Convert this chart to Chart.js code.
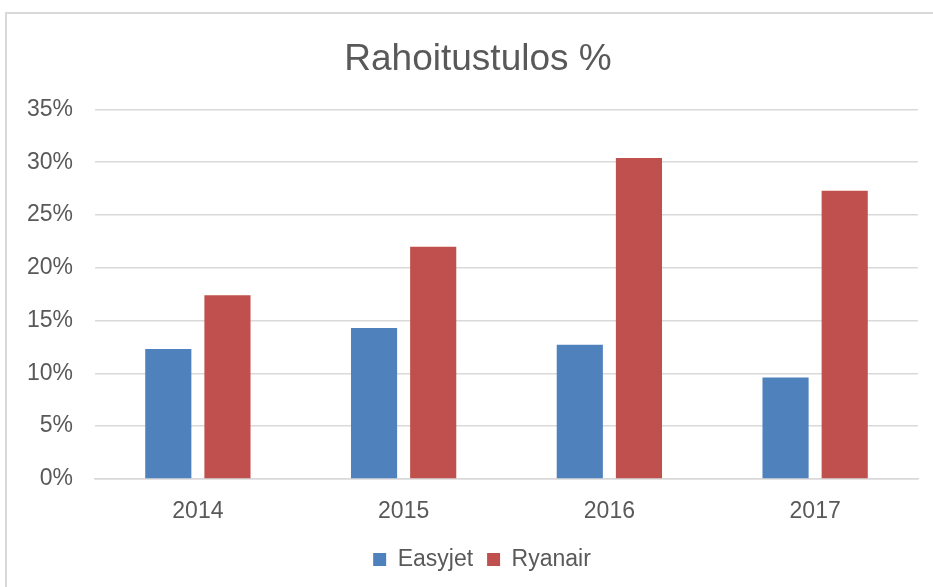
<!DOCTYPE html>
<html>
<head>
<meta charset="utf-8">
<script src="https://cdn.jsdelivr.net/npm/chart.js@4/dist/chart.umd.min.js"></script>
<style>
  html, body { margin: 0; padding: 0; background: #fff; overflow: hidden; }
  #frame {
    position: absolute; left: 5px; top: 12px; width: 960px; height: 600px;
    border: 2px solid #d9d9d9; box-sizing: border-box;
  }
  #wrap { position: absolute; left: 0; top: 0; width: 933px; height: 587px; }
</style>
</head>
<body>
<div id="frame"></div>
<div id="wrap"><canvas id="chart"></canvas></div>
<script>
// chart data
const years = ['2014', '2015', '2016', '2017'];
const easyjet = [12.3, 14.3, 12.7, 9.6];
const ryanair = [17.4, 22.0, 30.4, 27.3];

const textColor = '#595959';
const gridColor = '#d9d9d9';
const fontFamily = 'Liberation Sans, Arial, sans-serif';

// title and legend sit a bit right of the canvas center in the original
const shiftBlocks = {
  id: 'shiftBlocks',
  afterLayout(chart) {
    if (chart.titleBlock) chart.titleBlock.left += 31;
    if (chart.legend) chart.legend.left += 39;
  },
};

const ctx = document.getElementById('chart').getContext('2d');

new Chart(ctx, {
  type: 'bar',
  data: {
    labels: years,
    datasets: [
      {
        label: 'Easyjet',
        data: easyjet,
        backgroundColor: '#4f81bd',
        categoryPercentage: 0.575,
        barPercentage: 0.78,
      },
      {
        label: 'Ryanair',
        data: ryanair,
        backgroundColor: '#c0504d',
        categoryPercentage: 0.575,
        barPercentage: 0.78,
      },
    ],
  },
  options: {
    responsive: true,
    maintainAspectRatio: false,
    animation: false,
    layout: {
      padding: { left: 7, right: 15, top: 15, bottom: 6 },
    },
    plugins: {
      title: {
        display: true,
        text: 'Rahoitustulos %',
        color: textColor,
        font: { family: fontFamily, size: 37, weight: 'normal' },
        padding: { top: 23, bottom: 27 },
      },
      legend: {
        position: 'bottom',
        labels: {
          color: textColor,
          font: { family: fontFamily, size: 23 },
          boxWidth: 13,
          boxHeight: 13,
          padding: 14,
        },
      },
      tooltip: { enabled: false },
    },
    scales: {
      x: {
        grid: { display: false },
        border: { color: gridColor, width: 1.5 },
        ticks: {
          color: textColor,
          font: { family: fontFamily, size: 23 },
          padding: 11,
        },
        afterFit: (scale) => { scale.height -= 2.5; },
      },
      y: {
        min: 0,
        max: 35,
        grid: { color: gridColor, lineWidth: 1.5, drawTicks: false },
        border: { display: false },
        ticks: {
          stepSize: 5,
          color: textColor,
          font: { family: fontFamily, size: 23 },
          padding: 22,
          callback: (v) => v + '%',
        },
        afterFit: (scale) => { scale.width = 88; },
      },
    },
  },
  plugins: [shiftBlocks],
});
</script>
</body>
</html>
